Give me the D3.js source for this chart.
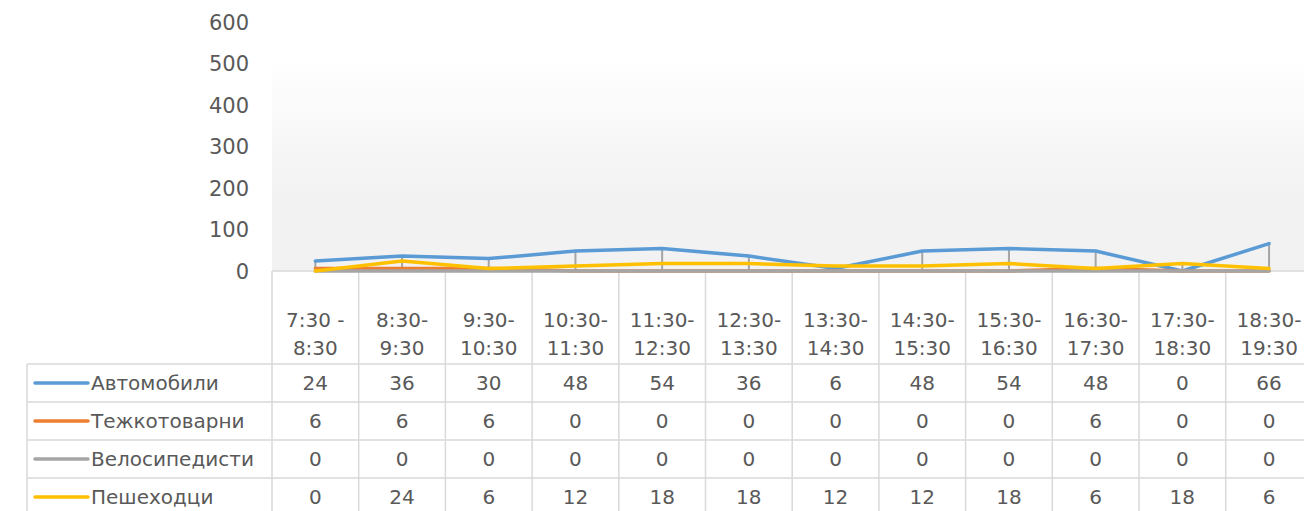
<!DOCTYPE html>
<html>
<head>
<meta charset="utf-8">
<script src="https://cdn.jsdelivr.net/npm/d3@7"></script>
<style>
  body { margin: 0; background: #fff; }
  text { font-family: "DejaVu Sans", sans-serif; fill: #595959; }
</style>
</head>
<body>
<script>
// data
var categories = ["7:30 -|8:30", "8:30-|9:30", "9:30-|10:30", "10:30-|11:30", "11:30-|12:30", "12:30-|13:30",
                  "13:30-|14:30", "14:30-|15:30", "15:30-|16:30", "16:30-|17:30", "17:30-|18:30", "18:30-|19:30"];
var seriesNames = ["Автомобили", "Тежкотоварни", "Велосипедисти", "Пешеходци"];
var cars   = [24, 36, 30, 48, 54, 36, 6, 48, 54, 48, 0, 66];
var trucks = [6, 6, 6, 0, 0, 0, 0, 0, 0, 6, 0, 0];
var bikes  = [0, 0, 0, 0, 0, 0, 0, 0, 0, 0, 0, 0];
var walkers = [0, 24, 6, 12, 18, 18, 12, 12, 18, 6, 18, 6];
var yTicks = [0, 100, 200, 300, 400, 500, 600];
var colors = ["#5b9bd5", "#ed7d31", "#a5a5a5", "#ffc000"];

var series = [cars, trucks, bikes, walkers];

var W = 1304, H = 511;
var svg = d3.select("body").append("svg").attr("width", W).attr("height", H);

var x = d3.scaleBand().domain(categories).range([272, 272 + 12 * 86.7]);
var y = d3.scaleLinear().domain([0, 600]).range([271, 22]);
var rows = d3.scaleBand().domain(seriesNames).range([364, 364 + 4 * 38]);

// plot area background
var grad = svg.append("defs").append("linearGradient")
  .attr("id", "bg").attr("x1", 0).attr("y1", 0).attr("x2", 0).attr("y2", 1);
grad.append("stop").attr("offset", "0%").attr("stop-color", "#ffffff");
grad.append("stop").attr("offset", "65%").attr("stop-color", "#f2f2f2");
grad.append("stop").attr("offset", "100%").attr("stop-color", "#f2f2f2");

svg.append("rect")
  .attr("x", x.range()[0]).attr("y", 55)
  .attr("width", x.range()[1] - x.range()[0]).attr("height", y(0) - 55)
  .attr("fill", "url(#bg)");

// y axis labels
svg.selectAll("text.ytick").data(yTicks).enter().append("text")
  .attr("class", "ytick")
  .attr("x", 249).attr("y", function(d) { return y(d); })
  .attr("dy", "0.36em")
  .attr("text-anchor", "end")
  .style("font-size", "21px")
  .text(function(d) { return d; });

// table grid
var grid = svg.append("g").attr("stroke", "#d9d9d9").attr("stroke-width", 1.5);
grid.append("line").attr("x1", x.range()[0]).attr("x2", x.range()[1]).attr("y1", y(0)).attr("y2", y(0));
d3.range(13).forEach(function(i) {
  var xx = x.range()[0] + i * x.bandwidth();
  grid.append("line").attr("x1", xx).attr("x2", xx).attr("y1", y(0)).attr("y2", H);
});
grid.append("line").attr("x1", 27).attr("x2", 27).attr("y1", rows.range()[0]).attr("y2", H);
seriesNames.concat(["_end"]).forEach(function(s, i) {
  var yy = rows.range()[0] + i * rows.bandwidth();
  grid.append("line").attr("x1", 27).attr("x2", x.range()[1]).attr("y1", yy).attr("y2", yy);
});

// category labels
categories.forEach(function(c) {
  var parts = c.split("|");
  var t = svg.append("text")
    .attr("x", x(c) + x.bandwidth() / 2)
    .attr("text-anchor", "middle")
    .style("font-size", "20px");
  t.append("tspan").attr("x", x(c) + x.bandwidth() / 2).attr("y", 327).text(parts[0]);
  t.append("tspan").attr("x", x(c) + x.bandwidth() / 2).attr("y", 355).text(parts[1]);
});

// drop lines
var cx = function(i) { return x(categories[i]) + x.bandwidth() / 2; };
svg.append("g").selectAll("line").data(categories).enter().append("line")
  .attr("x1", function(d, i) { return cx(i); })
  .attr("x2", function(d, i) { return cx(i); })
  .attr("y1", function(d, i) { return y(d3.max(series, function(s) { return s[i]; })); })
  .attr("y2", y(0))
  .attr("stroke", "#a5a5a5").attr("stroke-width", 2);

// lines
var line = d3.line().x(function(d, i) { return cx(i); }).y(function(d) { return y(d); });
series.forEach(function(s, k) {
  svg.append("path").datum(s)
    .attr("d", line)
    .attr("fill", "none")
    .attr("stroke", colors[k])
    .attr("stroke-width", 3.5)
    .attr("stroke-linejoin", "round")
    .attr("stroke-linecap", "round");
});

// table rows
seriesNames.forEach(function(name, k) {
  var cy = rows(name) + rows.bandwidth() / 2;
  svg.append("line")
    .attr("x1", 35).attr("x2", 88).attr("y1", cy).attr("y2", cy)
    .attr("stroke", colors[k]).attr("stroke-width", 3.5).attr("stroke-linecap", "round");
  svg.append("text")
    .attr("x", 91).attr("y", cy).attr("dy", "0.36em")
    .style("font-size", "20px")
    .text(name);
  series[k].forEach(function(v, i) {
    svg.append("text")
      .attr("x", cx(i)).attr("y", cy).attr("dy", "0.36em")
      .attr("text-anchor", "middle")
      .style("font-size", "20px")
      .text(v);
  });
});
</script>
</body>
</html>
